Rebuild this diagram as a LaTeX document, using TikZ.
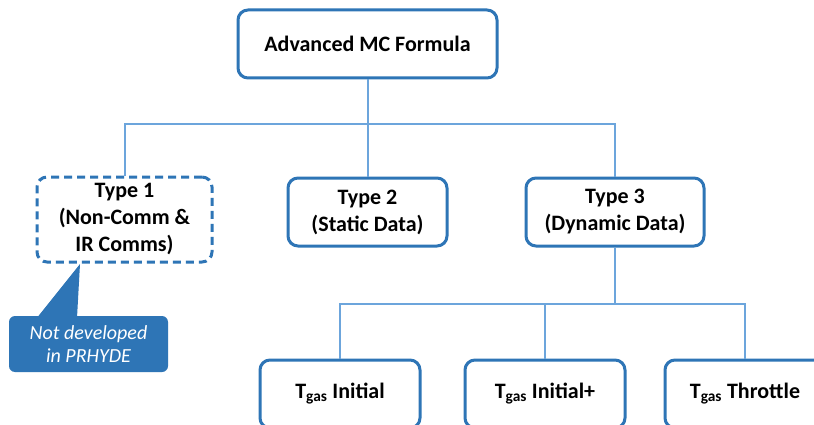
\documentclass[tikz,border=0pt]{standalone}
\usepackage{fontspec}
\setmainfont{Carlito}
\usepackage{tikz}

\definecolor{boxblue}{RGB}{46,117,182}
\definecolor{linkblue}{RGB}{108,165,220}
\definecolor{notefill}{RGB}{46,117,182}

\tikzset{
  mcbox/.style={draw=boxblue, line width=3pt, rounded corners=10pt, fill=white,
    align=center, inner sep=0pt, font=\bfseries\fontsize{22}{27}\selectfont},
  dashbox/.style={mcbox, dash pattern=on 8pt off 5pt},
  link/.style={draw=linkblue, line width=2pt},
  notebox/.style={fill=notefill, rounded corners=6pt, text=white, align=center,
    inner sep=0pt, font=\itshape\fontsize{20}{23}\selectfont}
}

\newcommand{\Tgas}{T\textsubscript{gas}}

\begin{document}
\begin{tikzpicture}[x=1pt,y=-1pt]
 \clip (0,0) rectangle (814,425);
 \fill[white] (0,0) rectangle (814,425);

 % top of the tree
 \node[mcbox, minimum width=259pt, minimum height=68pt] (adv) at (367.5,44) {Advanced MC Formula};

 % the three types
 \node[dashbox, minimum width=175pt, minimum height=85pt] (type1) at (124.5,219.5) {Type 1\\(Non-Comm \&\\IR Comms)};
 \node[mcbox, minimum width=159pt, minimum height=68pt] (type2) at (367.5,212) {Type 2\\(Static Data)};
 \node[mcbox, minimum width=178pt, minimum height=68pt] (type3) at (615,212) {Type 3\\(Dynamic Data)};

 % dynamic data cases (cut by the bottom edge)
 \node[mcbox, minimum width=160pt, minimum height=68pt] (tgas1) at (340,394) {\Tgas{} Initial};
 \node[mcbox, minimum width=160pt, minimum height=68pt] (tgas2) at (545,394) {\Tgas{} Initial+};
 \node[mcbox, minimum width=160pt, minimum height=68pt] (tgas3) at (745,394) {\Tgas{} Throttle};

 % connectors
 \coordinate (fork) at (367.5,124);
 \draw[link] (adv) -- (type2);
 \draw[link] (type1) |- (fork) -| (type3);

 \coordinate (fork2) at (615,304);
 \draw[link] (type3) -- (fork2);
 \draw[link] (tgas1) |- (fork2) -| (tgas3);
 \draw[link] (tgas2) -- (tgas2 |- fork2);

 % callout for type 1
 \node[notebox, minimum width=159pt, minimum height=56pt] (note) at (88.5,344) {Not developed\\in PRHYDE};
 \coordinate (tip) at (80,264);
 \fill[notefill] ([xshift=-51.5pt,yshift=-2pt]note.north) -- (tip) -- ([xshift=-11.5pt,yshift=-2pt]note.north) -- cycle;

\end{tikzpicture}
\end{document}
